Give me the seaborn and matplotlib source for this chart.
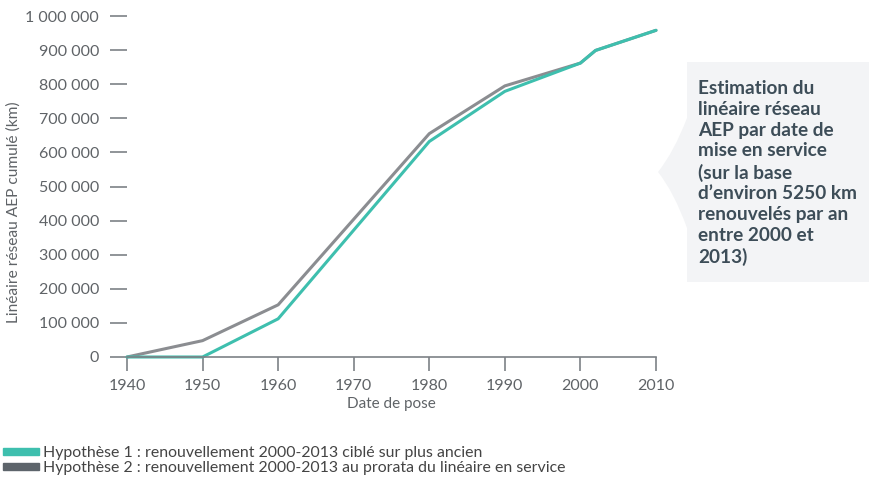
import matplotlib
matplotlib.use("Agg")
import matplotlib.pyplot as plt
import matplotlib.patches as mpatches
from matplotlib.path import Path
from matplotlib.ticker import FuncFormatter
import seaborn as sns
import pandas as pd

years = [1940, 1950, 1960, 1980, 1990, 2000, 2002, 2010]
hyp1 = [0, 0, 112000, 632000, 779000, 862000, 899000, 958000]
hyp2 = [0, 48000, 153000, 655000, 795000, 862000, 899000, 958000]
series_names = ["Hypothèse 1 : renouvellement 2000-2013 ciblé sur plus ancien",
                "Hypothèse 2 : renouvellement 2000-2013 au prorata du linéaire en service"]
x_ticks = [1940, 1950, 1960, 1970, 1980, 1990, 2000, 2010]
y_ticks = [0, 100000, 200000, 300000, 400000, 500000, 600000, 700000, 800000, 900000, 1000000]
note = ("Estimation du\nlinéaire réseau\nAEP par date de\nmise en service\n(sur la base\n"
        "d’environ 5250 km\nrenouvelés par an\nentre 2000 et\n2013)")

df = pd.concat([
    pd.DataFrame({"year": years, "value": hyp1, "serie": series_names[0]}),
    pd.DataFrame({"year": years, "value": hyp2, "serie": series_names[1]}),
])

sns.set_theme(style="white")
plt.rcParams['font.family'] = ['Lato', 'DejaVu Sans']

W, H = 869, 478
def fx(x): return x / W
def fy(y): return 1 - y / H

fig = plt.figure(figsize=(W / 100, H / 100), dpi=100)
ax = fig.add_axes([fx(127), fy(357), (656 - 127) / W, (357 - 16) / H])

line_colors = {series_names[0]: "#3ebfae", series_names[1]: "#8b8d91"}
sns.lineplot(data=df, x="year", y="value", hue="serie", palette=line_colors,
             hue_order=[series_names[1], series_names[0]],
             linewidth=2.2, ax=ax, legend=False)
for ln in ax.lines:
    ln.set_clip_on(False)

ax.set_xlim(1940, 2010)
ax.set_ylim(0, 1000000)
ax.set_xticks(x_ticks)
ax.set_yticks(y_ticks)
ax.yaxis.set_major_formatter(FuncFormatter(lambda v, p: f"{int(v):,}".replace(",", " ")))
for s in ["top", "right", "left"]:
    ax.spines[s].set_visible(False)
ax.spines["bottom"].set_color("#7d8186")
ax.spines["bottom"].set_linewidth(1.2)
ax.tick_params(axis="x", direction="out", length=10, width=1.2, color="#7d8186",
               labelsize=11.5, labelcolor="#5f6367", pad=6, bottom=True)
ax.tick_params(axis="y", direction="out", length=12, width=1.2, color="#7d8186",
               labelsize=11.5, labelcolor="#5f6367", pad=8, left=True)
ax.set_xlabel("Date de pose", fontsize=11, color="#5f6367", labelpad=3)
ax.set_ylabel("")
fig.text(fx(14), fy(212), "Linéaire réseau AEP cumulé (km)", rotation=90,
         ha="center", va="center", fontsize=11.2, color="#5f6367")

# annotation bubble
verts = [(687, 62), (869, 62), (869, 282), (687, 282), (687, 228),
         (674, 192), (658, 172), (674, 152), (687, 118), (687, 62)]
codes = [Path.MOVETO, Path.LINETO, Path.LINETO, Path.LINETO, Path.LINETO,
         Path.CURVE3, Path.CURVE3, Path.CURVE3, Path.CURVE3, Path.CLOSEPOLY]
path = Path([(fx(x), fy(y)) for x, y in verts], codes)
fig.patches.append(mpatches.PathPatch(path, transform=fig.transFigure,
                                      facecolor="#f3f4f6", edgecolor="none"))
fig.text(fx(698), fy(80), note, ha="left", va="top", fontsize=13.7, fontweight="bold",
         color="#3d4d58", linespacing=1.27)

# legend
handles = [mpatches.Patch(color="#3ebfae"), mpatches.Patch(color="#5d646b")]
fig.legend(handles, series_names, loc="lower left", bbox_to_anchor=(fx(3), fy(475)),
           frameon=False, fontsize=11.4, handlelength=2.3, handleheight=0.3,
           handletextpad=0.2, labelspacing=0.08, borderaxespad=0, borderpad=0,
           labelcolor="#444444")

fig.savefig("out.png", dpi=100, facecolor="white")
